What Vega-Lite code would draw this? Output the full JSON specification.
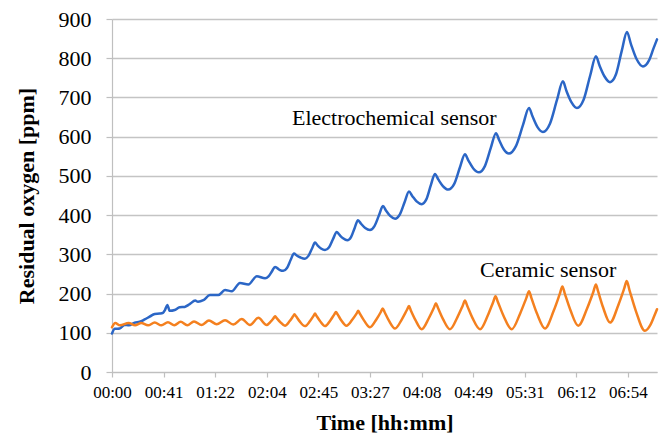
{
  "$schema": "https://vega.github.io/schema/vega-lite/v6.json",
  "width": 545,
  "height": 353,
  "autosize": {"type": "none"},
  "padding": {"left": 112, "top": 19, "right": 7, "bottom": 65},
  "background": "white",
  "config": {
    "view": {"stroke": null},
    "font": "Liberation Serif"
  },
  "datasets": {
    "series": [
      {"s": "E", "t": 0, "v": 98}, {"s": "E", "t": 2.2, "v": 110}, {"s": "E", "t": 6.2, "v": 111}, {"s": "E", "t": 10.2, "v": 120},
      {"s": "E", "t": 13.6, "v": 119}, {"s": "E", "t": 18.2, "v": 126}, {"s": "E", "t": 22.2, "v": 128}, {"s": "E", "t": 26.2, "v": 134},
      {"s": "E", "t": 30.2, "v": 141}, {"s": "E", "t": 34.3, "v": 148}, {"s": "E", "t": 38.3, "v": 149}, {"s": "E", "t": 40.9, "v": 151},
      {"s": "E", "t": 42.5, "v": 158}, {"s": "E", "t": 44.4, "v": 171}, {"s": "E", "t": 46.3, "v": 156}, {"s": "E", "t": 50.3, "v": 158},
      {"s": "E", "t": 54.3, "v": 165}, {"s": "E", "t": 58.3, "v": 166}, {"s": "E", "t": 62.3, "v": 173}, {"s": "E", "t": 66.8, "v": 182},
      {"s": "E", "t": 69.0, "v": 179}, {"s": "E", "t": 73.3, "v": 183}, {"s": "E", "t": 78.6, "v": 196}, {"s": "E", "t": 85.3, "v": 196},
      {"s": "E", "t": 90.7, "v": 209}, {"s": "E", "t": 96.1, "v": 206}, {"s": "E", "t": 102.7, "v": 227}, {"s": "E", "t": 109.4, "v": 223},
      {"s": "E", "t": 116.1, "v": 244}, {"s": "E", "t": 122.8, "v": 239}, {"s": "E", "t": 125.6, "v": 244}, {"s": "E", "t": 128.4, "v": 257},
      {"s": "E", "t": 130.8, "v": 268}, {"s": "E", "t": 132.5, "v": 265}, {"s": "E", "t": 134.8, "v": 260}, {"s": "E", "t": 137.4, "v": 258},
      {"s": "E", "t": 140.4, "v": 265}, {"s": "E", "t": 143.4, "v": 286}, {"s": "E", "t": 146.0, "v": 302}, {"s": "E", "t": 148.2, "v": 297},
      {"s": "E", "t": 151.3, "v": 292}, {"s": "E", "t": 154.8, "v": 289}, {"s": "E", "t": 157.6, "v": 296}, {"s": "E", "t": 160.5, "v": 315},
      {"s": "E", "t": 162.9, "v": 330}, {"s": "E", "t": 164.9, "v": 323}, {"s": "E", "t": 167.7, "v": 315}, {"s": "E", "t": 170.9, "v": 311},
      {"s": "E", "t": 174.2, "v": 318}, {"s": "E", "t": 177.5, "v": 340}, {"s": "E", "t": 180.3, "v": 357}, {"s": "E", "t": 182.4, "v": 350},
      {"s": "E", "t": 185.4, "v": 341}, {"s": "E", "t": 188.8, "v": 336}, {"s": "E", "t": 191.8, "v": 344}, {"s": "E", "t": 194.8, "v": 368},
      {"s": "E", "t": 197.4, "v": 387}, {"s": "E", "t": 199.8, "v": 378}, {"s": "E", "t": 203.2, "v": 367}, {"s": "E", "t": 207.0, "v": 362},
      {"s": "E", "t": 210.6, "v": 372}, {"s": "E", "t": 214.3, "v": 400}, {"s": "E", "t": 217.4, "v": 423}, {"s": "E", "t": 219.8, "v": 412},
      {"s": "E", "t": 223.2, "v": 398}, {"s": "E", "t": 227.1, "v": 391}, {"s": "E", "t": 231.0, "v": 402}, {"s": "E", "t": 234.9, "v": 434},
      {"s": "E", "t": 238.3, "v": 460}, {"s": "E", "t": 240.9, "v": 449}, {"s": "E", "t": 244.4, "v": 435}, {"s": "E", "t": 248.5, "v": 428},
      {"s": "E", "t": 252.2, "v": 440}, {"s": "E", "t": 255.9, "v": 477}, {"s": "E", "t": 259.1, "v": 505}, {"s": "E", "t": 261.8, "v": 491},
      {"s": "E", "t": 265.5, "v": 474}, {"s": "E", "t": 269.8, "v": 465}, {"s": "E", "t": 274.5, "v": 479}, {"s": "E", "t": 279.2, "v": 522},
      {"s": "E", "t": 283.2, "v": 555}, {"s": "E", "t": 286.0, "v": 539}, {"s": "E", "t": 289.9, "v": 519}, {"s": "E", "t": 294.4, "v": 509},
      {"s": "E", "t": 299.2, "v": 525}, {"s": "E", "t": 304.0, "v": 572}, {"s": "E", "t": 308.1, "v": 609}, {"s": "E", "t": 310.7, "v": 591},
      {"s": "E", "t": 314.3, "v": 568}, {"s": "E", "t": 318.5, "v": 557}, {"s": "E", "t": 324.1, "v": 576}, {"s": "E", "t": 329.8, "v": 630},
      {"s": "E", "t": 334.6, "v": 673}, {"s": "E", "t": 337.4, "v": 652}, {"s": "E", "t": 341.3, "v": 625}, {"s": "E", "t": 345.8, "v": 612},
      {"s": "E", "t": 351.4, "v": 633}, {"s": "E", "t": 357.0, "v": 693}, {"s": "E", "t": 361.8, "v": 741}, {"s": "E", "t": 364.6, "v": 717},
      {"s": "E", "t": 368.6, "v": 688}, {"s": "E", "t": 373.1, "v": 673}, {"s": "E", "t": 378.4, "v": 694}, {"s": "E", "t": 383.7, "v": 756},
      {"s": "E", "t": 388.3, "v": 805}, {"s": "E", "t": 391.1, "v": 782}, {"s": "E", "t": 395.1, "v": 754}, {"s": "E", "t": 399.6, "v": 739},
      {"s": "E", "t": 404.4, "v": 759}, {"s": "E", "t": 409.1, "v": 820}, {"s": "E", "t": 413.2, "v": 867}, {"s": "E", "t": 416.4, "v": 836},
      {"s": "E", "t": 420.9, "v": 798}, {"s": "E", "t": 426.0, "v": 779}, {"s": "E", "t": 431.0, "v": 795}, {"s": "E", "t": 434.5, "v": 825},
      {"s": "E", "t": 437.3, "v": 848},

      {"s": "C", "t": 0, "v": 114}, {"s": "C", "t": 2.6, "v": 125}, {"s": "C", "t": 6.4, "v": 119}, {"s": "C", "t": 13.4, "v": 125},
      {"s": "C", "t": 18.5, "v": 119}, {"s": "C", "t": 23.5, "v": 125}, {"s": "C", "t": 28.9, "v": 119}, {"s": "C", "t": 34.3, "v": 126},
      {"s": "C", "t": 39.6, "v": 119}, {"s": "C", "t": 44.9, "v": 127}, {"s": "C", "t": 50.0, "v": 119}, {"s": "C", "t": 55.1, "v": 128},
      {"s": "C", "t": 60.4, "v": 119}, {"s": "C", "t": 65.8, "v": 129}, {"s": "C", "t": 72.0, "v": 120}, {"s": "C", "t": 77.8, "v": 131},
      {"s": "C", "t": 84.0, "v": 122}, {"s": "C", "t": 90.7, "v": 132}, {"s": "C", "t": 97.3, "v": 121}, {"s": "C", "t": 104.1, "v": 135},
      {"s": "C", "t": 110.7, "v": 120}, {"s": "C", "t": 117.4, "v": 138}, {"s": "C", "t": 124.1, "v": 120}, {"s": "C", "t": 127.5, "v": 129},
      {"s": "C", "t": 129.8, "v": 138}, {"s": "C", "t": 130.8, "v": 142}, {"s": "C", "t": 132.0, "v": 138}, {"s": "C", "t": 134.8, "v": 128},
      {"s": "C", "t": 138.8, "v": 118}, {"s": "C", "t": 142.6, "v": 130}, {"s": "C", "t": 145.3, "v": 142}, {"s": "C", "t": 146.4, "v": 147},
      {"s": "C", "t": 147.7, "v": 142}, {"s": "C", "t": 150.6, "v": 129}, {"s": "C", "t": 154.8, "v": 117}, {"s": "C", "t": 158.9, "v": 130},
      {"s": "C", "t": 161.7, "v": 143}, {"s": "C", "t": 162.9, "v": 149}, {"s": "C", "t": 164.1, "v": 143}, {"s": "C", "t": 166.9, "v": 130},
      {"s": "C", "t": 170.9, "v": 117}, {"s": "C", "t": 175.3, "v": 132}, {"s": "C", "t": 178.4, "v": 147}, {"s": "C", "t": 179.7, "v": 153},
      {"s": "C", "t": 181.0, "v": 147}, {"s": "C", "t": 183.9, "v": 132}, {"s": "C", "t": 188.1, "v": 118}, {"s": "C", "t": 192.9, "v": 134},
      {"s": "C", "t": 196.2, "v": 149}, {"s": "C", "t": 197.6, "v": 156}, {"s": "C", "t": 199.0, "v": 148}, {"s": "C", "t": 202.3, "v": 131},
      {"s": "C", "t": 207.0, "v": 114}, {"s": "C", "t": 212.1, "v": 134}, {"s": "C", "t": 215.7, "v": 153}, {"s": "C", "t": 217.2, "v": 162},
      {"s": "C", "t": 218.7, "v": 153}, {"s": "C", "t": 222.2, "v": 131}, {"s": "C", "t": 227.1, "v": 111}, {"s": "C", "t": 232.7, "v": 135},
      {"s": "C", "t": 236.6, "v": 158}, {"s": "C", "t": 238.3, "v": 168}, {"s": "C", "t": 239.8, "v": 157}, {"s": "C", "t": 243.4, "v": 133},
      {"s": "C", "t": 248.5, "v": 109}, {"s": "C", "t": 254.2, "v": 137}, {"s": "C", "t": 258.2, "v": 163}, {"s": "C", "t": 259.9, "v": 175},
      {"s": "C", "t": 261.6, "v": 163}, {"s": "C", "t": 265.6, "v": 135}, {"s": "C", "t": 271.2, "v": 109}, {"s": "C", "t": 277.2, "v": 140},
      {"s": "C", "t": 281.4, "v": 169}, {"s": "C", "t": 283.2, "v": 182}, {"s": "C", "t": 285.0, "v": 169}, {"s": "C", "t": 289.2, "v": 138},
      {"s": "C", "t": 295.3, "v": 109}, {"s": "C", "t": 301.5, "v": 144}, {"s": "C", "t": 305.8, "v": 178}, {"s": "C", "t": 307.7, "v": 193},
      {"s": "C", "t": 309.7, "v": 178}, {"s": "C", "t": 314.2, "v": 143}, {"s": "C", "t": 320.7, "v": 109}, {"s": "C", "t": 327.6, "v": 150},
      {"s": "C", "t": 332.5, "v": 189}, {"s": "C", "t": 334.6, "v": 206}, {"s": "C", "t": 336.5, "v": 189}, {"s": "C", "t": 341.0, "v": 149},
      {"s": "C", "t": 347.4, "v": 111}, {"s": "C", "t": 354.4, "v": 156}, {"s": "C", "t": 359.3, "v": 199}, {"s": "C", "t": 361.4, "v": 218},
      {"s": "C", "t": 363.3, "v": 200}, {"s": "C", "t": 367.8, "v": 158}, {"s": "C", "t": 374.1, "v": 118}, {"s": "C", "t": 381.2, "v": 162},
      {"s": "C", "t": 386.2, "v": 204}, {"s": "C", "t": 388.3, "v": 223}, {"s": "C", "t": 390.0, "v": 206}, {"s": "C", "t": 394.0, "v": 165},
      {"s": "C", "t": 399.6, "v": 126}, {"s": "C", "t": 406.3, "v": 171}, {"s": "C", "t": 411.0, "v": 213}, {"s": "C", "t": 413.0, "v": 232},
      {"s": "C", "t": 415.2, "v": 209}, {"s": "C", "t": 420.3, "v": 156}, {"s": "C", "t": 427.6, "v": 105}, {"s": "C", "t": 432.0, "v": 120},
      {"s": "C", "t": 435.0, "v": 142}, {"s": "C", "t": 437.3, "v": 160}
    ],
    "notes": [
      {"t": 144.4, "v": 629, "label": "Electrochemical sensor"},
      {"t": 295.3, "v": 242, "label": "Ceramic sensor"}
    ]
  },
  "encoding": {
    "x": {
      "field": "t",
      "type": "quantitative",
      "scale": {"domain": [0, 437.3], "nice": false, "zero": false},
      "axis": {
        "title": "Time [hh:mm]",
        "values": [0, 41.4, 82.8, 124.2, 165.6, 207, 248.4, 289.8, 331.2, 372.6, 414],
        "labelExpr": "(floor(datum.value/60) < 10 ? '0' : '') + floor(datum.value/60) + ':' + (floor(datum.value%60) < 10 ? '0' : '') + floor(datum.value%60)",
        "grid": false,
        "domainColor": "#bfbfbf",
        "domainWidth": 1.2,
        "tickColor": "#bfbfbf",
        "tickWidth": 1.2,
        "tickSize": 5,
        "labelFont": "Liberation Serif",
        "labelFontSize": 17,
        "labelColor": "#000000",
        "labelPadding": 7,
        "labelFlush": false,
        "labelOverlap": false,
        "titleFont": "Liberation Serif",
        "titleFontSize": 22,
        "titleFontWeight": "bold",
        "titleColor": "#000000",
        "titlePadding": 12
      }
    },
    "y": {
      "field": "v",
      "type": "quantitative",
      "scale": {"domain": [0, 900], "nice": false},
      "axis": {
        "title": "Residual oxygen [ppm]",
        "values": [0, 100, 200, 300, 400, 500, 600, 700, 800, 900],
        "labelOverlap": false,
        "grid": true,
        "gridColor": "#c4c4c4",
        "gridWidth": 1.3,
        "domainColor": "#bfbfbf",
        "domainWidth": 1.2,
        "tickColor": "#bfbfbf",
        "tickWidth": 1.2,
        "tickSize": 6,
        "labelFont": "Liberation Serif",
        "labelFontSize": 22,
        "labelColor": "#000000",
        "labelPadding": 15,
        "labelFlush": false,
        "titleFont": "Liberation Serif",
        "titleFontSize": 22,
        "titleFontWeight": "bold",
        "titleColor": "#000000",
        "titlePadding": 20
      }
    }
  },
  "layer": [
    {
      "data": {"name": "series"},
      "mark": {"type": "line", "interpolate": "monotone", "strokeWidth": 2.5, "strokeCap": "round", "strokeJoin": "round"},
      "encoding": {
        "color": {
          "field": "s",
          "type": "nominal",
          "scale": {"domain": ["E", "C"], "range": ["#2b66c6", "#f4801f"]},
          "legend": null
        }
      }
    },
    {
      "data": {"name": "notes"},
      "mark": {"type": "text", "align": "left", "baseline": "alphabetic", "font": "Liberation Serif", "fontSize": 22, "color": "#000000"},
      "encoding": {
        "text": {"field": "label"}
      }
    }
  ]
}
